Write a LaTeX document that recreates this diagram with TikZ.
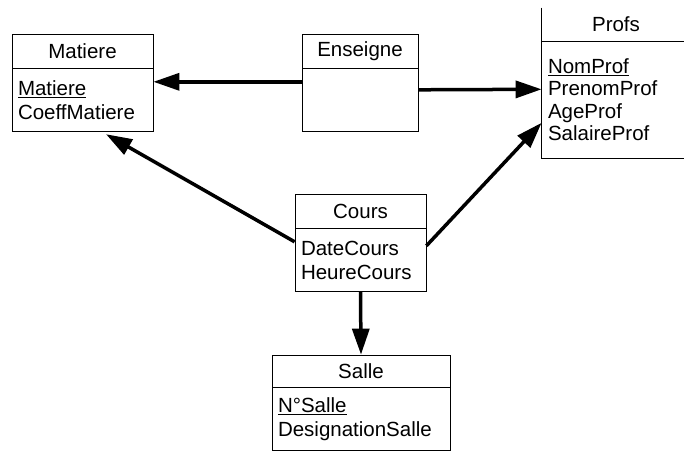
\documentclass[tikz,border=0pt]{standalone}
\usepackage{fontspec}
\setmainfont{Liberation Sans}
\usetikzlibrary{positioning,arrows.meta}

\begin{document}
\begin{tikzpicture}[
      x=1pt, y=-1pt,
      node distance=0pt,
      font=\fontsize{20.5}{23.5}\selectfont,
      head/.style={draw, line width=0.8pt, minimum height=34pt, inner sep=0pt, align=center},
      body/.style={draw, line width=0.8pt, minimum height=63pt, inner xsep=6pt, inner ysep=0pt, align=left},
      arr/.style={line width=3.5pt, -{Triangle[length=26pt,width=17pt]}},
    ]
    \clip (0,0) rectangle (684,452);
    % classes
    \node[head, minimum width=141pt] at (82.5,51) (matiere) {Matiere};
    \node[body, text width=129pt, below=of matiere] (matiere-b) {\underline{Matiere}\\CoeffMatiere};
    \node[head, minimum width=116pt] at (360,51) (enseigne) {Enseigne};
    \node[body, text width=104pt, below=of enseigne] (enseigne-b) {};
    \node[head, draw=none, minimum width=148pt, minimum height=33pt] at (616,24.5) (profs) {Profs};
    \node[body, draw=none, text width=136pt, minimum height=116pt, below=of profs] (profs-b)
      {\fontsize{20.5}{22.5}\selectfont\underline{NomProf}\\PrenomProf\\AgeProf\\SalaireProf\\[12pt]};
    \draw[line width=0.8pt] (profs.north west) -- (profs-b.south west) -- (profs-b.south east);
    \draw[line width=0.8pt] (profs.south west) -- (profs.south east);
    \node[head, minimum width=131pt] at (360.5,211) (cours) {Cours};
    \node[body, text width=119pt, below=of cours] (cours-b) {DateCours\\HeureCours};
    \node[head, minimum width=178pt, minimum height=32pt] at (361,371) (salle) {Salle};
    \node[body, text width=166pt, below=of salle] (salle-b) {\underline{N°Salle}\\DesignationSalle};
    % links
    \draw[arr] ([yshift=18.5pt]enseigne-b.west) -- ([yshift=18.5pt]matiere-b.east);
    \draw[arr] ([yshift=10.5pt]enseigne-b.east) -- ([yshift=10.5pt]profs-b.west);
    \draw[arr] ([yshift=18.5pt]cours-b.west) -- ([xshift=23.5pt,yshift=-2pt]matiere-b.south);
    \draw[arr] ([yshift=14.5pt]cours-b.east) -- ([yshift=-23pt]profs-b.west);
    \draw[arr] (cours-b.south) -- (salle.north);
  \end{tikzpicture}
\end{document}
